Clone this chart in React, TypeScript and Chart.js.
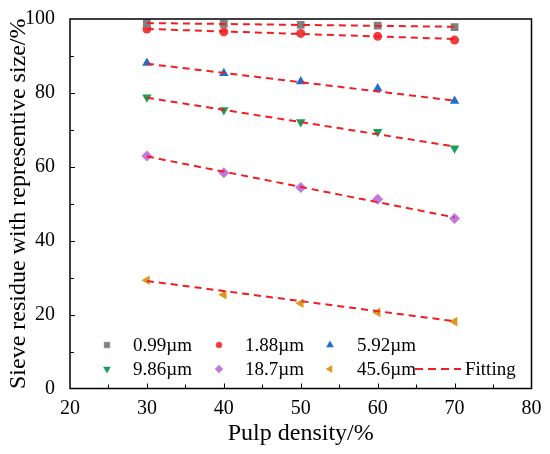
import { Chart, registerables } from 'chart.js';
import { drawPoint } from 'chart.js/helpers';
import { useEffect, useRef } from 'react';

Chart.register(...registerables);

const pulpDensity = [30, 40, 50, 60, 70];
const sizeLabels = ['0.99µm', '1.88µm', '5.92µm', '9.86µm', '18.7µm', '45.6µm'];

const residue099 = [98.9, 98.7, 98.4, 98.2, 97.8];
const residue188 = [97.3, 96.5, 96.1, 95.3, 94.3];
const residue592 = [88.1, 85.3, 83.1, 81.2, 77.8];
const residue986 = [78.8, 75.4, 72.1, 69.5, 65.0];
const residue187 = [62.9, 58.4, 54.4, 51.2, 46.0];
const residue456 = [29.3, 25.4, 23.1, 20.6, 18.1];

const fitX = [30, 70];
const fit099 = [98.9, 97.9];
const fit188 = [97.3, 94.6];
const fit592 = [87.9, 77.9];
const fit986 = [78.7, 65.5];
const fit187 = [62.8, 46.3];
const fit456 = [29.1, 18.2];

const FONT = "'Liberation Serif', 'Times New Roman', serif";
const FIT_COLOR = '#f01e23';

const markers = [
  { color: '#808080', style: 'rect', rotation: 0, radius: 5.5 },
  { color: '#f03c3c', style: 'circle', rotation: 0, radius: 4.5 },
  { color: '#1f6fcf', style: 'triangle', rotation: 0, radius: 5.5 },
  { color: '#17a05a', style: 'triangle', rotation: 180, radius: 5.5 },
  { color: '#c07ade', style: 'rectRot', rotation: 0, radius: 5.5 },
  { color: '#db9a1e', style: 'triangle', rotation: -90, radius: 5.5 },
];

const residues = [residue099, residue188, residue592, residue986, residue187, residue456];
const fits = [fit099, fit188, fit592, fit986, fit187, fit456];

const frameAndTicks = {
  id: 'frameAndTicks',
  afterDraw(chart: any) {
    const { ctx, chartArea } = chart;
    const { left, right, top, bottom } = chartArea;
    const xs = chart.scales.x;
    const ys = chart.scales.y;
    ctx.save();
    ctx.strokeStyle = '#000';
    ctx.lineWidth = 1;
    for (let v = 25; v < 80; v += 5) {
      const px = Math.round(xs.getPixelForValue(v)) + 0.5;
      const len = v % 10 === 0 ? 5 : 4;
      ctx.beginPath();
      ctx.moveTo(px, bottom);
      ctx.lineTo(px, bottom - len);
      ctx.stroke();
    }
    for (let v = 10; v < 100; v += 10) {
      const py = Math.round(ys.getPixelForValue(v)) + 0.5;
      const len = v % 20 === 0 ? 5 : 4;
      ctx.beginPath();
      ctx.moveTo(left, py);
      ctx.lineTo(left + len, py);
      ctx.stroke();
    }
    ctx.lineWidth = 1.5;
    ctx.strokeRect(left, top, right - left, bottom - top);

    // legend inside the plot
    const rows = [bottom - 43.5, bottom - 19.5];
    const markX = [107, 219, 330];
    const textX = [133, 245, 357];
    ctx.font = `19px ${FONT}`;
    ctx.textBaseline = 'middle';
    ctx.textAlign = 'left';
    sizeLabels.forEach((label, i) => {
      const r = rows[Math.floor(i / 3)];
      const c = i % 3;
      const m = markers[i];
      ctx.fillStyle = m.color;
      ctx.strokeStyle = m.color;
      ctx.lineWidth = 0.5;
      drawPoint(ctx, { pointStyle: m.style as any, rotation: m.rotation, radius: m.radius - 1.5, borderWidth: 0.5 }, markX[c], r);
      ctx.fillStyle = '#000';
      ctx.fillText(label, textX[c], r + 1);
    });
    ctx.strokeStyle = FIT_COLOR;
    ctx.lineWidth = 2;
    ctx.setLineDash([8, 5]);
    ctx.beginPath();
    ctx.moveTo(415, rows[1]);
    ctx.lineTo(461, rows[1]);
    ctx.stroke();
    ctx.setLineDash([]);
    ctx.fillStyle = '#000';
    ctx.fillText('Fitting', 465, rows[1] + 1);
    ctx.restore();
  },
};

export default function App() {
  const canvasRef = useRef<HTMLCanvasElement | null>(null);

  useEffect(() => {
    if (!canvasRef.current) return;

    const pointSets = residues.map((vals, i) => ({
      type: 'scatter' as const,
      label: sizeLabels[i],
      data: pulpDensity.map((x, j) => ({ x, y: vals[j] })),
      backgroundColor: markers[i].color,
      borderColor: markers[i].color,
      borderWidth: 0,
      pointStyle: markers[i].style,
      rotation: markers[i].rotation,
      pointRadius: markers[i].radius,
      showLine: false,
      order: 1,
    }));

    const fitSets = fits.map((vals, i) => ({
      type: 'line' as const,
      label: 'Fitting ' + sizeLabels[i],
      data: fitX.map((x, j) => ({ x, y: vals[j] })),
      borderColor: FIT_COLOR,
      borderWidth: 2,
      borderDash: [7, 5],
      pointRadius: 0,
      fill: false,
      order: 0,
    }));

    const chart = new Chart(canvasRef.current, {
      type: 'scatter',
      data: { datasets: [...pointSets, ...fitSets] as any },
      options: {
        animation: false,
        responsive: true,
        maintainAspectRatio: false,
        layout: { padding: { top: 16, right: 18.5, left: 0, bottom: 0 } },
        plugins: {
          legend: { display: false },
          tooltip: { enabled: false },
        },
        scales: {
          x: {
            type: 'linear',
            min: 20,
            max: 80,
            grid: { display: false },
            border: { display: false },
            ticks: {
              stepSize: 10,
              color: '#000',
              padding: 0,
              font: { family: FONT, size: 20 },
            },
            title: {
              display: true,
              text: 'Pulp density/%',
              color: '#000',
              padding: { top: 0, bottom: 6 },
              font: { family: FONT, size: 24 },
            },
            afterFit: (s: any) => {
              s.height = 65.5;
            },
          },
          y: {
            type: 'linear',
            min: 0,
            max: 100,
            grid: { display: false },
            border: { display: false },
            ticks: {
              stepSize: 20,
              color: '#000',
              padding: 7,
              font: { family: FONT, size: 20 },
            },
            title: {
              display: true,
              text: 'Sieve residue with representive size/%',
              color: '#000',
              padding: { top: 4, bottom: 0 },
              font: { family: FONT, size: 24 },
            },
            afterFit: (s: any) => {
              s.width = 70;
            },
          },
        },
      },
      plugins: [frameAndTicks],
    });

    return () => chart.destroy();
  }, []);

  return (
    <div style={{ position: 'fixed', left: 0, top: 0, width: 550, height: 454, background: '#fff' }}>
      <canvas ref={canvasRef} />
    </div>
  );
}
